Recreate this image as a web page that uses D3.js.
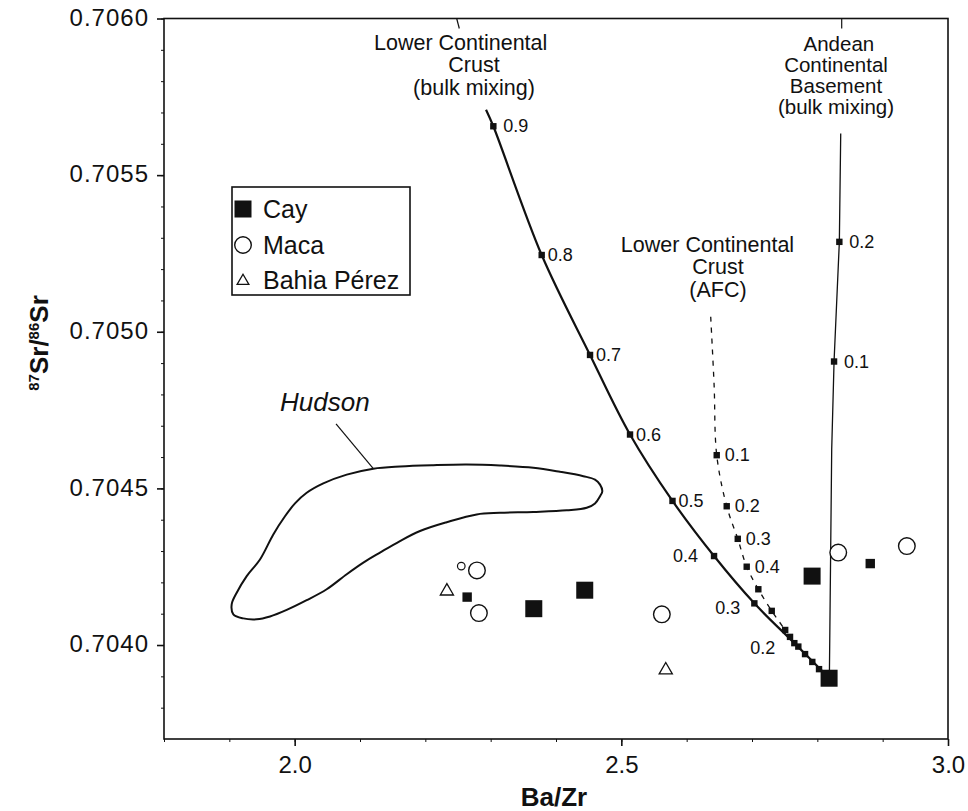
<!DOCTYPE html>
<html><head><meta charset="utf-8">
<script src="https://cdn.jsdelivr.net/npm/d3@7"></script>
<style>
body{margin:0;background:#fff}
svg{display:block;font-family:"Liberation Sans",Arial,Helvetica,sans-serif}
</style>
</head><body>
<svg id="chart" width="968" height="811"></svg>
<script>
// ---------- data ----------
const xDomain = [1.8, 3.0];
const yDomain = [0.7037, 0.7060];
const xTicks = [2.0, 2.5, 3.0];
const yTicks = [0.7040, 0.7045, 0.7050, 0.7055, 0.7060];
const xMinor = [1.8,1.9,2.0,2.1,2.2,2.3,2.4,2.5,2.6,2.7,2.8,2.9,3.0];
const yMinor = [0.7038,0.7039,0.7040,0.7041,0.7042,0.7043,0.7044,0.7045,0.7046,0.7047,0.7048,0.7049,0.7050,0.7051,0.7052,0.7053,0.7054,0.7055,0.7056,0.7057,0.7058,0.7059,0.7060];

// samples [Ba/Zr, 87Sr/86Sr]
const cayLarge  = [[2.366,0.704116],[2.444,0.704175],[2.792,0.704220],[2.818,0.703894]];
const caySmall  = [[2.264,0.704153],[2.881,0.704260]];
const macaLarge = [[2.279,0.704238],[2.282,0.704102],[2.562,0.704098],[2.832,0.704295],[2.937,0.704316]];
const macaSmall = [[2.255,0.704252]];
const bahiaPerez = [[2.233,0.704175],[2.568,0.703923]];

// mixing models
const lccBulkCurve = [[2.2929,0.705709],[2.3041,0.705656],[2.3781,0.705245],[2.4521,0.704926],[2.5133,0.704672],[2.5783,0.704460],[2.6419,0.704284],[2.7036,0.704133],[2.7648,0.704006],[2.8184,0.703894]];
const lccBulkMarks = [[2.3041,0.705656,"0.9"],[2.3781,0.705245,"0.8"],[2.4521,0.704926,"0.7"],[2.5133,0.704672,"0.6"],[2.5783,0.704460,"0.5"],[2.6419,0.704284,"0.4"],[2.7036,0.704133,"0.3"],[2.7648,0.704006,"0.2"],[2.7508,0.704048,""],[2.7582,0.704026,""],[2.7709,0.703995,""],[2.7812,0.703971,""],[2.7923,0.703946,""],[2.8026,0.703923,""]];
const lccBulkLeftLabels = ["0.4","0.3","0.2"];
const lccAfcCurve = [[2.6368,0.705048],[2.6420,0.704830],[2.6460,0.704606],[2.6613,0.704443],[2.6782,0.704339],[2.6919,0.704250],[2.7097,0.704178],[2.7302,0.704109],[2.7508,0.704048]];
const lccAfcMarks = [[2.6460,0.704606,"0.1"],[2.6613,0.704443,"0.2"],[2.6782,0.704339,"0.3"],[2.6919,0.704250,"0.4"],[2.7097,0.704178,""],[2.7302,0.704109,""]];
const andeanCurve = [[2.8358,0.705633],[2.8337,0.705287],[2.8256,0.704905],[2.8220,0.704624],[2.8184,0.703894]];
const andeanMarks = [[2.8337,0.705287,"0.2"],[2.8256,0.704905,"0.1"]];
const hudsonField = [[1.9061,0.704098],[1.9214,0.704085],[1.9419,0.704082],[1.9623,0.704091],[1.9878,0.704112],[2.0184,0.704143],[2.0490,0.704178],[2.0797,0.704226],[2.1051,0.704263],[2.1306,0.704295],[2.1612,0.704332],[2.1919,0.704364],[2.2327,0.704392],[2.2786,0.704417],[2.3143,0.704422],[2.3653,0.704425],[2.4164,0.704430],[2.4470,0.704438],[2.4597,0.704452],[2.4674,0.704475],[2.4709,0.704491],[2.4674,0.704512],[2.4597,0.704528],[2.4418,0.704539],[2.4061,0.704553],[2.3653,0.704566],[2.3143,0.704573],[2.2633,0.704576],[2.2122,0.704574],[2.1612,0.704570],[2.1204,0.704563],[2.0797,0.704544],[2.0438,0.704516],[2.0184,0.704486],[2.0005,0.704452],[1.9852,0.704411],[1.9673,0.704353],[1.9469,0.704273],[1.9266,0.704220],[1.9113,0.704167],[1.9036,0.704130]];

// annotations (data coordinates)
const lccBulkLabel = {lines:["Lower Continental","Crust","(bulk mixing)"], x:[2.2541,2.2745,2.2745], y:[0.705898,0.705828,0.705755], size:21.5};
const lccAfcLabel = {lines:["Lower Continental","Crust","(AFC)"], x:[2.6319,2.6480,2.6480], y:[0.705255,0.705183,0.705111], size:21.5};
const andeanLabel = {lines:["Andean","Continental","Basement","(bulk mixing)"], x:[2.8330,2.8286,2.8286,2.8286], y:[0.705896,0.705829,0.705762,0.705695], size:20.5};
const leaders = [[[2.2480,0.7060],[2.2520,0.705968]],[[2.8373,0.7060],[2.8373,0.705968]],[[2.0633,0.704706],[2.1204,0.704563]]];
const hudsonLabel = {text:"Hudson", x:1.9776, y:0.704746};
const legendItems = ["Cay","Maca","Bahia Pérez"];

// ---------- drawing ----------
const svg = d3.select("#chart");
const x = d3.scaleLinear().domain(xDomain).range([164, 948]);
const y = d3.scaleLinear().domain(yDomain).range([739, 18.5]);
const ink = "#111";

// frame
svg.append("rect").attr("x", x(xDomain[0])).attr("y", y(yDomain[1]))
  .attr("width", x(xDomain[1]) - x(xDomain[0])).attr("height", y(yDomain[0]) - y(yDomain[1]))
  .attr("fill","none").attr("stroke",ink).attr("stroke-width",1.6);

// minor ticks
const gxm = svg.append("g").attr("transform",`translate(0,${y(yDomain[0])})`)
  .call(d3.axisBottom(x).tickValues(xMinor).tickSize(3).tickFormat(""));
gxm.select(".domain").remove();
gxm.selectAll("line").attr("stroke",ink).attr("stroke-width",1);
const gym = svg.append("g").attr("transform",`translate(${x(xDomain[0])},0)`)
  .call(d3.axisLeft(y).tickValues(yMinor).tickSize(3).tickFormat(""));
gym.select(".domain").remove();
gym.selectAll("line").attr("stroke",ink).attr("stroke-width",1);

// major axes
const gx = svg.append("g").attr("transform",`translate(0,${y(yDomain[0])})`)
  .call(d3.axisBottom(x).tickValues(xTicks).tickFormat(d3.format(".1f")).tickSize(7).tickPadding(10));
gx.select(".domain").remove();
gx.selectAll("line").attr("stroke",ink).attr("stroke-width",1.6);
gx.selectAll("text").attr("font-size",24).attr("fill",ink).style("font-family","'Liberation Sans',Arial,sans-serif");

const gy = svg.append("g").attr("transform",`translate(${x(xDomain[0])},0)`)
  .call(d3.axisLeft(y).tickValues(yTicks).tickFormat(d3.format(".4f")).tickSize(7).tickPadding(8));
gy.select(".domain").remove();
gy.selectAll("line").attr("stroke",ink).attr("stroke-width",1.6);
gy.selectAll("text").attr("font-size",24).attr("fill",ink).attr("dy","0.28em")
  .attr("letter-spacing","1px").style("font-family","'Liberation Sans',Arial,sans-serif");

// axis titles
svg.append("text").attr("x",554).attr("y",806).attr("text-anchor","middle")
  .attr("font-size",26).attr("font-weight","bold").attr("fill",ink).text("Ba/Zr");
const yt = svg.append("text").attr("transform","translate(48,343) rotate(-90)")
  .attr("text-anchor","middle").attr("font-size",26).attr("font-weight","bold").attr("fill",ink);
yt.append("tspan").attr("font-size",15).attr("dy",-9).text("87");
yt.append("tspan").attr("dy",9).text("Sr/");
yt.append("tspan").attr("font-size",15).attr("dy",-9).text("86");
yt.append("tspan").attr("dy",9).text("Sr");

// Hudson field
svg.append("path").datum(hudsonField)
  .attr("d", d3.line().x(d=>x(d[0])).y(d=>y(d[1])).curve(d3.curveCatmullRomClosed.alpha(0.5)))
  .attr("fill","none").attr("stroke",ink).attr("stroke-width",2);
svg.append("text").attr("x",x(hudsonLabel.x)).attr("y",y(hudsonLabel.y))
  .attr("font-size",26).attr("font-style","italic").attr("fill",ink).text(hudsonLabel.text);

// leader lines
leaders.forEach(l => svg.append("line").attr("x1",x(l[0][0])).attr("y1",y(l[0][1]))
  .attr("x2",x(l[1][0])).attr("y2",y(l[1][1])).attr("stroke",ink).attr("stroke-width",1.2));

// curves
const curveOf = c => d3.line().x(d=>x(d[0])).y(d=>y(d[1])).curve(c);
svg.append("path").attr("d", curveOf(d3.curveCatmullRom.alpha(0.5))(lccBulkCurve))
  .attr("fill","none").attr("stroke",ink).attr("stroke-width",2.2);
svg.append("path").attr("d", curveOf(d3.curveCatmullRom.alpha(0.5))(lccAfcCurve))
  .attr("fill","none").attr("stroke",ink).attr("stroke-width",1.3).attr("stroke-dasharray","5,6");
svg.append("path").attr("d", curveOf(d3.curveLinear)(andeanCurve))
  .attr("fill","none").attr("stroke",ink).attr("stroke-width",1.3);

// curve markers
function marks(arr, labelFn){
  arr.forEach(m => {
    svg.append("rect").attr("x",x(m[0])-3.2).attr("y",y(m[1])-3.2).attr("width",6.4).attr("height",6.4).attr("fill",ink);
    if (m[2]) {
      const o = labelFn(m[2]);
      svg.append("text").attr("x",x(m[0])+o.dx).attr("y",y(m[1])+o.dy).attr("text-anchor",o.anchor)
        .attr("font-size",18).attr("fill",ink).text(m[2]);
    }
  });
}
marks(lccBulkMarks, lab => lccBulkLeftLabels.includes(lab)
  ? {dx: lab==="0.4"?-16:(lab==="0.3"?-14:-19), dy: lab==="0.4"?6:11, anchor:"end"}
  : {dx: lab==="0.9"?10:6, dy:6, anchor:"start"});
marks(lccAfcMarks, lab => ({dx:8, dy:6, anchor:"start"}));
marks(andeanMarks, lab => ({dx:10, dy:6, anchor:"start"}));

// annotation labels
[lccBulkLabel, lccAfcLabel, andeanLabel].forEach(L => {
  L.lines.forEach((s,i) => svg.append("text").attr("x",x(L.x[i])).attr("y",y(L.y[i]))
    .attr("text-anchor","middle").attr("font-size",L.size).attr("fill",ink).text(s));
});

// sample symbols
svg.selectAll(".cayL").data(cayLarge).join("rect")
  .attr("x",d=>x(d[0])-8.5).attr("y",d=>y(d[1])-8.5).attr("width",17).attr("height",17).attr("fill",ink);
svg.selectAll(".cayS").data(caySmall).join("rect")
  .attr("x",d=>x(d[0])-4.7).attr("y",d=>y(d[1])-4.7).attr("width",9.4).attr("height",9.4).attr("fill",ink);
svg.selectAll(".macaL").data(macaLarge).join("circle")
  .attr("cx",d=>x(d[0])).attr("cy",d=>y(d[1])).attr("r",8.3).attr("fill","#fff").attr("stroke",ink).attr("stroke-width",1.4);
svg.selectAll(".macaS").data(macaSmall).join("circle")
  .attr("cx",d=>x(d[0])).attr("cy",d=>y(d[1])).attr("r",3.8).attr("fill","#fff").attr("stroke",ink).attr("stroke-width",1.2);
svg.selectAll(".bahia").data(bahiaPerez).join("path")
  .attr("transform",d=>`translate(${x(d[0])},${y(d[1])+1})`)
  .attr("d", d3.symbol().type(d3.symbolTriangle).size(75)())
  .attr("fill","#fff").attr("stroke",ink).attr("stroke-width",1.3);

// legend
const lg = svg.append("g");
lg.append("rect").attr("x",232).attr("y",187).attr("width",178).attr("height",108)
  .attr("fill","#fff").attr("stroke",ink).attr("stroke-width",1.6);
const ly = [209, 245, 280];
lg.append("rect").attr("x",243-8.5).attr("y",ly[0]-8.5).attr("width",17).attr("height",17).attr("fill",ink);
lg.append("circle").attr("cx",243).attr("cy",ly[1]).attr("r",8.3).attr("fill","#fff").attr("stroke",ink).attr("stroke-width",1.4);
lg.append("path").attr("transform",`translate(243,${ly[2]+1})`).attr("d", d3.symbol().type(d3.symbolTriangle).size(60)())
  .attr("fill","#fff").attr("stroke",ink).attr("stroke-width",1.3);
legendItems.forEach((t,i) => lg.append("text").attr("x",263).attr("y",ly[i]+9)
  .attr("font-size",25).attr("fill",ink).text(t));
</script>
</body></html>
